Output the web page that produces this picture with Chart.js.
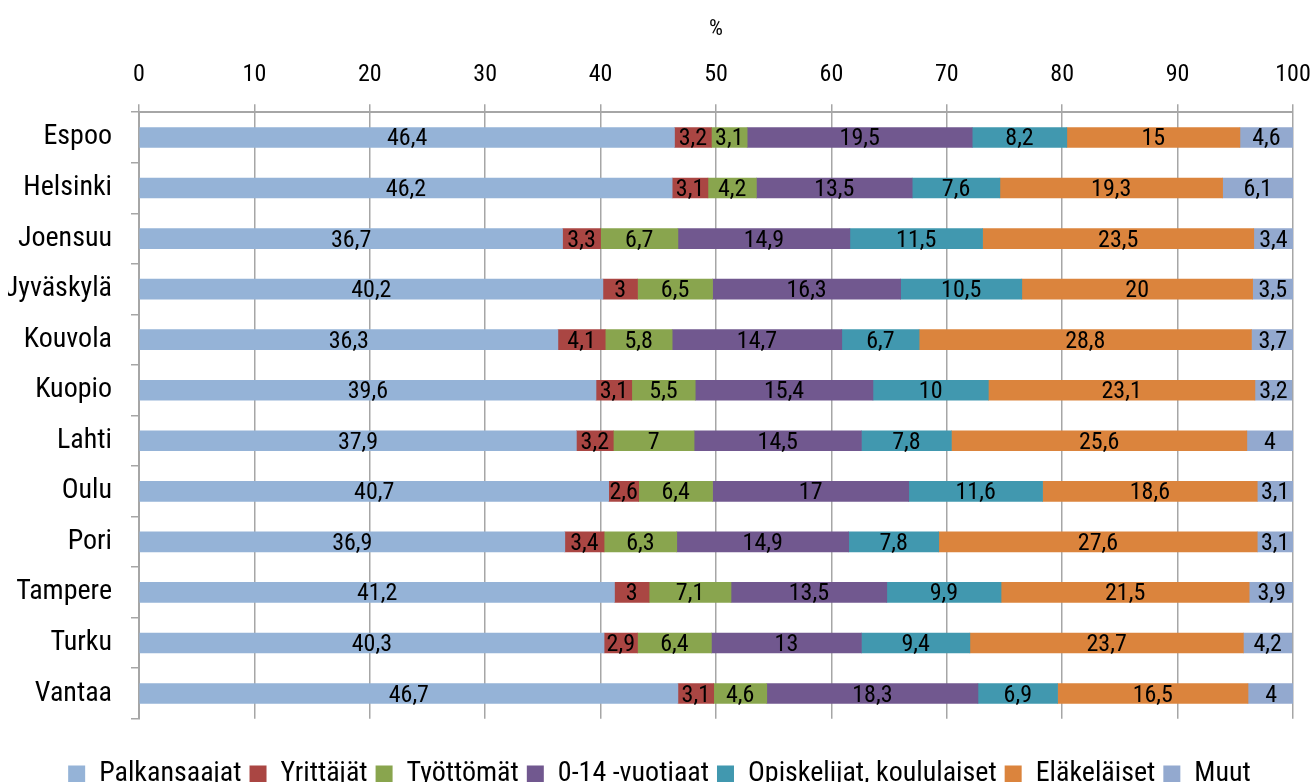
<!DOCTYPE html>
<html>
<head>
<meta charset="utf-8">
<script src="https://cdn.jsdelivr.net/npm/chart.js@4/dist/chart.umd.min.js"></script>
<style>
  html, body { margin: 0; padding: 0; background: #fff; }
  #wrap { width: 1311px; height: 782px; }
</style>
</head>
<body>
<div id="wrap"><canvas id="chart"></canvas></div>
<script>
// cities (y axis) and the share of each population group, %
const cities = ["Espoo", "Helsinki", "Joensuu", "Jyväskylä", "Kouvola", "Kuopio",
                "Lahti", "Oulu", "Pori", "Tampere", "Turku", "Vantaa"];

const palkansaajat = [46.4, 46.2, 36.7, 40.2, 36.3, 39.6, 37.9, 40.7, 36.9, 41.2, 40.3, 46.7];
const yrittajat    = [3.2, 3.1, 3.3, 3, 4.1, 3.1, 3.2, 2.6, 3.4, 3, 2.9, 3.1];
const tyottomat    = [3.1, 4.2, 6.7, 6.5, 5.8, 5.5, 7, 6.4, 6.3, 7.1, 6.4, 4.6];
const lapset       = [19.5, 13.5, 14.9, 16.3, 14.7, 15.4, 14.5, 17, 14.9, 13.5, 13, 18.3];
const opiskelijat  = [8.2, 7.6, 11.5, 10.5, 6.7, 10, 7.8, 11.6, 7.8, 9.9, 9.4, 6.9];
const elakelaiset  = [15, 19.3, 23.5, 20, 28.8, 23.1, 25.6, 18.6, 27.6, 21.5, 23.7, 16.5];
const muut         = [4.6, 6.1, 3.4, 3.5, 3.7, 3.2, 4, 3.1, 3.1, 3.9, 4.2, 4];

// Roboto in its condensed face; "condensed" goes through the weight slot of the font string
const FAM = "Roboto, 'DejaVu Sans', sans-serif";
const f = (size) => ({ family: FAM, size, weight: "condensed" });

// value labels in the middle of each segment, comma as decimal mark
const segmentLabels = {
  id: "segmentLabels",
  afterDatasetsDraw(chart) {
    const ctx = chart.ctx;
    ctx.save();
    ctx.font = "condensed 24px " + FAM;
    ctx.fillStyle = "#000";
    ctx.textAlign = "center";
    ctx.textBaseline = "middle";
    chart.data.datasets.forEach((ds, i) => {
      const meta = chart.getDatasetMeta(i);
      meta.data.forEach((bar, j) => {
        const txt = String(ds.data[j]).replace(".", ",");
        ctx.fillText(txt, (bar.x + bar.base) / 2, bar.y + 2);
      });
    });
    ctx.restore();
  }
};

const mk = (label, data, color) => ({ label, data, backgroundColor: color, borderWidth: 0 });

new Chart(document.getElementById("chart"), {
  type: "bar",
  data: {
    labels: cities,
    datasets: [
      mk("Palkansaajat", palkansaajat, "#95b3d7"),
      mk("Yrittäjät", yrittajat, "#aa4643"),
      mk("Työttömät", tyottomat, "#89a54e"),
      mk("0-14 -vuotiaat", lapset, "#71588f"),
      mk("Opiskelijat, koululaiset", opiskelijat, "#4198af"),
      mk("Eläkeläiset", elakelaiset, "#db843d"),
      mk("Muut", muut, "#93a9cf"),
    ]
  },
  options: {
    indexAxis: "y",
    responsive: true,
    maintainAspectRatio: false,
    animation: false,
    barThickness: 20,
    layout: { padding: { left: 8, right: 0, top: 16, bottom: -16 } },
    scales: {
      x: {
        position: "top",
        stacked: true,
        min: 0,
        max: 100,
        ticks: { stepSize: 10, color: "#000", font: f(24), padding: 15 },
        grid: { color: "#a6a6a6", lineWidth: 1.5, tickLength: 8 },
        border: { color: "#a6a6a6", width: 2 },
        title: { display: true, text: "%", color: "#000", font: f(22), padding: { top: 0, bottom: 3 } },
        afterFit(scale) { scale.paddingRight = 18; }
      },
      y: {
        stacked: true,
        ticks: { color: "#000", font: f(28), padding: 19 },
        grid: { offset: true, drawOnChartArea: false, color: "#a6a6a6", tickLength: 8, lineWidth: 1.5 },
        border: { color: "#a6a6a6", width: 2 },
        afterFit(scale) { scale.width = 131; }
      }
    },
    plugins: {
      legend: {
        position: "bottom",
        title: { display: true, text: "", font: { size: 1 }, padding: { top: 32, bottom: 0 } },
        labels: {
          color: "#000",
          font: f(28),
          boxWidth: 17,
          boxHeight: 17,
          padding: 8
        }
      },
      tooltip: { enabled: false }
    }
  },
  plugins: [segmentLabels]
});
</script>
</body>
</html>
